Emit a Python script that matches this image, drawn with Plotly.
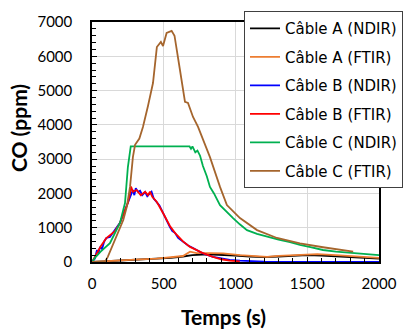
import plotly.graph_objects as go

# Câble A (NDIR)
t_a_ndir = [0, 100, 200, 300, 450, 550, 634, 700, 800, 900, 1000, 1100, 1200, 1300, 1400, 1500, 1600, 1700, 1800, 1900, 2000]
v_a_ndir = [0, 20, 40, 60, 90, 120, 160, 200, 220, 210, 190, 160, 140, 160, 180, 200, 190, 170, 140, 120, 100]

# Câble A (FTIR)
t_a_ftir = [0, 100, 200, 300, 450, 550, 634, 683, 730, 822, 913, 1031, 1120, 1220, 1300, 1380, 1480, 1570, 1700, 1850, 2000]
v_a_ftir = [0, 30, 50, 70, 100, 130, 175, 300, 260, 260, 250, 200, 170, 150, 180, 200, 220, 230, 200, 150, 120]

# Câble B (NDIR)
t_b_ndir = [0, 20, 35, 45, 56, 70, 85, 100, 125, 150, 170, 195, 215, 230, 250, 265, 275, 285, 295, 305,
            320, 335, 350, 370, 385, 404, 415, 430, 452, 470, 495, 510, 525, 543, 560, 578, 600, 634,
            670, 704, 740, 773, 843, 900, 960, 1031, 1100, 1200, 1400, 1600, 1800, 2000]
v_b_ndir = [0, 100, 350, 250, 440, 380, 600, 700, 730, 900, 1000, 1140, 1350, 1500, 1720, 1900, 2000, 2100, 1950, 2150,
            2050, 2080, 1950, 2040, 1920, 2000, 2050, 1850, 1750, 1650, 1430, 1300, 1150, 1020, 900, 850, 700, 580,
            480, 410, 320, 250, 150, 100, 60, 40, 20, 10, 5, 5, 5, 5]

# Câble B (FTIR)
t_b_ftir = [0, 20, 60, 100, 125, 160, 195, 230, 250, 265, 272, 285, 310, 340, 370, 390, 404, 420, 452, 495,
            543, 578, 634, 683, 704, 773, 843, 900, 960, 1030]
v_b_ftir = [0, 150, 450, 700, 780, 900, 1140, 1500, 1720, 2000, 2200, 2050, 2100, 1950, 2050, 1950, 2050, 1900, 1750, 1430,
            1050, 850, 600, 440, 400, 260, 150, 80, 40, 20]

# Câble C (NDIR)
t_c_ndir = [0, 20, 60, 125, 195, 230, 250, 265, 270, 680, 690, 700, 720, 735, 753, 773, 800, 822, 850, 892,
            940, 983, 1030, 1080, 1150, 1220, 1300, 1380, 1449, 1530, 1610, 1700, 1800, 1900, 2000]
v_c_ndir = [0, 120, 300, 550, 1140, 1720, 2770, 3320, 3370, 3370, 3300, 3370, 3200, 3250, 3100, 2800, 2500, 2190, 2000, 1660,
            1450, 1280, 1100, 930, 820, 730, 650, 580, 500, 430, 350, 300, 260, 230, 200]

# Câble C (FTIR)
t_c_ftir = [0, 90, 110, 160, 218, 242, 265, 285, 300, 330, 355, 390, 425, 452, 480, 495, 520, 555, 575, 613,
            648, 669, 704, 739, 773, 822, 892, 940, 1031, 1150, 1289, 1449, 1610, 1820]
v_c_ftir = [0, 0, 150, 640, 1225, 1600, 2190, 3060, 3420, 3600, 3940, 4550, 5220, 6270, 6420, 6300, 6680, 6740, 6600, 5600,
            4670, 4640, 4230, 3940, 3560, 3060, 2190, 1660, 1280, 930, 700, 540, 430, 300]

series = [
    ("Câble A (NDIR)", t_a_ndir, v_a_ndir, "#000000"),
    ("Câble A (FTIR)", t_a_ftir, v_a_ftir, "#ED7D31"),
    ("Câble B (NDIR)", t_b_ndir, v_b_ndir, "#0000FF"),
    ("Câble B (FTIR)", t_b_ftir, v_b_ftir, "#FF0000"),
    ("Câble C (NDIR)", t_c_ndir, v_c_ndir, "#00B050"),
    ("Câble C (FTIR)", t_c_ftir, v_c_ftir, "#A5652D"),
]

fig = go.Figure()
for name, t, v, c in series:
    fig.add_trace(go.Scatter(x=t, y=v, mode="lines", name=name, legendgroup=name,
                             line=dict(color=c, width=1.8)))

axis_common = dict(showline=True, linecolor="#000000", linewidth=1.5, mirror=True,
                   showgrid=True, gridcolor="#D9D9D9", gridwidth=1,
                   ticks="inside", ticklen=5, tickcolor="#000000",
                   tickfont=dict(family="Lato", size=15, color="#000000"),
                   zeroline=False)

fig.update_xaxes(range=[0, 2000], dtick=500, tick0=0,
                 minor=dict(dtick=100, ticks="inside", ticklen=4, tickcolor="#000000", showgrid=False),
                 ticklabelstandoff=7, **axis_common)
fig.update_yaxes(range=[0, 7000], dtick=1000, tick0=0,
                 minor=dict(dtick=200, ticks="inside", ticklen=4, tickcolor="#000000", showgrid=False),
                 ticklabelstandoff=15, **axis_common)

fig.add_annotation(text="<b>Temps (s)</b>", xref="paper", yref="paper", x=0.458, y=-0.229,
                   xanchor="center", yanchor="middle", showarrow=False,
                   font=dict(family="Lato", size=21, color="#000000"))
fig.add_annotation(text="<b>CO (ppm)</b>", xref="paper", yref="paper", x=-0.258, y=0.558,
                   xanchor="center", yanchor="middle", showarrow=False, textangle=-90,
                   font=dict(family="Lato", size=21, color="#000000"))

fig.update_layout(
    width=404, height=329,
    margin=dict(l=92, r=25, t=22, b=67, autoexpand=False),
    paper_bgcolor="white", plot_bgcolor="white",
    showlegend=True,
    legend=dict(x=1.0836, y=1.045, xanchor="right", yanchor="top",
                bgcolor="white", bordercolor="#404040", borderwidth=1,
                font=dict(family="DejaVu Sans", size=15, color="#000000"),
                tracegroupgap=6, itemwidth=30, maxheight=300),
)

fig.write_html("out.html", config={"displayModeBar": False},
               post_script="document.body.style.margin='0';document.body.style.overflow='hidden';")
